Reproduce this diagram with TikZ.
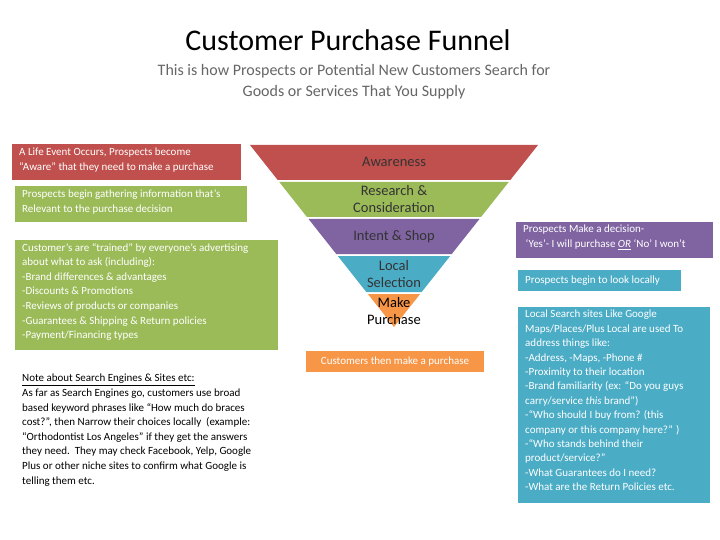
\documentclass[tikz,border=0pt]{standalone}
\usepackage{fontspec}
\setmainfont{Carlito}
\definecolor{cred}{HTML}{C0504D}
\definecolor{cgreen}{HTML}{9BBB59}
\definecolor{cpurple}{HTML}{8064A2}
\definecolor{cblue}{HTML}{4BACC6}
\definecolor{corange}{HTML}{F79646}
\definecolor{ctext}{HTML}{333333}
\begin{document}
\begin{tikzpicture}[x=1pt,y=-1pt,
  box/.style={anchor=north west,inner sep=0pt,text=white,font=\fontsize{11}{14.6}\selectfont,align=left},
  flabel/.style={font=\fontsize{14.5}{16.5}\selectfont,text=ctext,align=center}]
\useasboundingbox (0,0) rectangle (720,540);
\fill[white] (0,0) rectangle (720,540);
\node[font=\fontsize{30}{32}\selectfont] (title) at (348,40) {Customer Purchase Funnel};
\node[font=\fontsize{16}{21}\selectfont,text=black!60,align=center] (sub) at (354,82) {This is how Prospects or Potential New Customers Search for\\Goods or Services That You Supply};
\fill[cred] (250,145) -- (538,145) -- ({538-0.7912*35},180) -- ({250+0.7912*35},180) -- cycle;
\fill[cgreen] ({250+0.7912*37},182) -- ({538-0.7912*37},182) -- ({538-0.7912*72},217) -- ({250+0.7912*72},217) -- cycle;
\fill[cpurple] ({250+0.7912*74},219) -- ({538-0.7912*74},219) -- ({538-0.7912*109},254) -- ({250+0.7912*109},254) -- cycle;
\fill[cblue] ({250+0.7912*111},256) -- ({538-0.7912*111},256) -- ({538-0.7912*147},292) -- ({250+0.7912*147},292) -- cycle;
\fill[corange] ({250+0.7912*149},294) -- ({538-0.7912*149},294) -- (394,327) -- cycle;
\node[flabel] (aw) at (394,162) {Awareness};
\node[flabel] (rc) at (394,199) {Research \&\\Consideration};
\node[flabel] (is) at (394,237) {Intent \& Shop};
\node[flabel] (ls) at (394,274) {Local\\Selection};
\node[flabel,text=black] (mp) at (394,311) {Make\\Purchase};
\fill[cred] (12,144) rectangle (241,180);
\node[box] (t1) at (19,148) {A Life Event Occurs, Prospects become\\“Aware” that they need to make a purchase};
\fill[cgreen] (15,186) rectangle (247,222);
\node[box] (t2) at (22,190) {Prospects begin gathering information that’s\\Relevant to the purchase decision};
\fill[cgreen] (15,240) rectangle (278,350);
\node[box] (t3) at (22,243) {Customer’s are “trained” by everyone’s advertising\\about what to ask (including):\\-Brand differences \& advantages\\-Discounts \& Promotions\\-Reviews of products or companies\\-Guarantees \& Shipping \& Return policies\\-Payment/Financing types};
\fill[corange] (306,351) rectangle (484,372);
\node[box,anchor=center] (t4) at (395,361.5) {Customers then make a purchase};
\node[box,text=black] (t5) at (22,374) {\underline{Note about Search Engines \& Sites etc:}\\As far as Search Engines go, customers use broad\\based keyword phrases like “How much do braces\\cost?”, then Narrow their choices locally \ (example:\\“Orthodontist Los Angeles” if they get the answers\\they need.\ \ They may check Facebook, Yelp, Google\\Plus or other niche sites to confirm what Google is\\telling them etc.};
\fill[cpurple] (516,222) rectangle (713,258);
\node[box] (t6) at (523,225) {Prospects Make a decision-\\\ ‘Yes’- I will purchase \underline{\textit{OR}} ‘No’ I won’t};
\fill[cblue] (518,270) rectangle (681,291);
\node[box,anchor=west] (t7) at (525,280.5) {Prospects begin to look locally};
\fill[cblue] (518,307) rectangle (710,503);
\node[box,font=\fontsize{11}{14.4}\selectfont] (t8) at (525,310) {Local Search sites Like Google\\Maps/Places/Plus Local are used To\\address things like:\\-Address, -Maps, -Phone \#\\-Proximity to their location\\-Brand familiarity (ex: “Do you guys\\carry/service \textit{this} brand”)\\-“Who should I buy from? (this\\company or this company here?” )\\-“Who stands behind their\\product/service?”\\-What Guarantees do I need?\\-What are the Return Policies etc.};
\end{tikzpicture}
\end{document}
